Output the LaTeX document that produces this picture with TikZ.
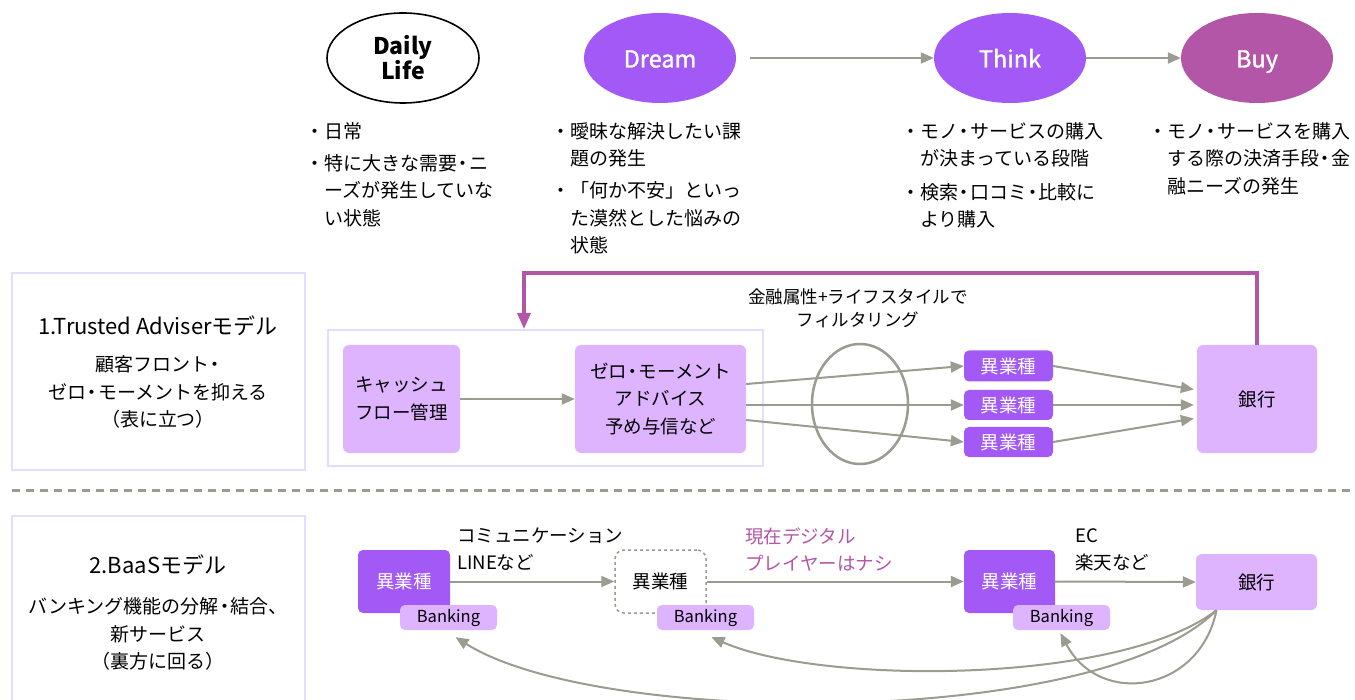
\documentclass[tikz,border=0pt]{standalone}
\usepackage{fontspec}
\setmainfont{Noto Sans CJK JP}
\newfontfamily\medfont{Noto Sans CJK JP}[FakeBold=1.3]
\usetikzlibrary{shapes.geometric,arrows.meta,calc}
\definecolor{vio}{HTML}{A259F5}
\definecolor{lvio}{HTML}{DEB3FF}
\definecolor{mag}{HTML}{B356A7}
\definecolor{gr}{HTML}{9B9B8F}
\definecolor{lav}{HTML}{E3DDFF}
\newcommand{\bl}{\makebox[13pt][r]{・}}
\newcommand{\ind}{\hspace*{13pt}}
\newcommand{\nd}{\makebox[0.62em][c]{・}}
\begin{document}
\begin{tikzpicture}[x=1pt,y=-1pt,
  ell/.style={ellipse,minimum width=152pt,minimum height=90pt,inner sep=0pt,text height=24pt,text depth=5pt,font=\medfont\fontsize{23.5}{25}\selectfont},
  fs/.style={font=\fontsize{18.5}{27.5}\selectfont},
  bfs/.style={font=\fontsize{19}{27.5}\selectfont},
  bullets/.style={bfs,align=left,anchor=north west,inner sep=0pt},
  lbox/.style={draw=lav,line width=2pt,inner sep=0pt},
  pbox/.style={fill=lvio,rounded corners=6pt,inner sep=0pt,fs,align=center,text=black},
  dbox/.style={fill=vio,rounded corners=5pt,inner sep=0pt,fs,text=white},
  tag/.style={fill=lvio,rounded corners=5pt,inner sep=0pt,minimum width=97pt,minimum height=25pt,font=\fontsize{16.5}{18}\selectfont},
  arr/.style={draw=gr,line width=2pt,-{Triangle[length=13pt,width=11pt]}},
  magarr/.style={draw=mag,line width=3.5pt,-{Triangle[length=16pt,width=13pt]}},
  title/.style={font=\fontsize{22}{24}\selectfont},
  desc/.style={font=\fontsize{19}{27.5}\selectfont,align=center},
  lbl/.style={font=\fontsize{18.5}{27}\selectfont,align=left,anchor=west,inner sep=0pt}
]
\useasboundingbox (0,0) rectangle (1355,700);
\fill[white] (0,0) rectangle (1355,700);

% ---- top row ----
\node[ellipse,minimum width=152pt,minimum height=90pt,inner sep=0pt,draw=black,line width=1.6pt,fill=white,align=center,font=\bfseries\fontsize{23}{24}\selectfont] (dl) at (403,58) {Daily\\Life};
\node[ell,fill=vio,text=white] (dream) at (660,58) {Dream};
\node[ell,fill=vio,text=white] (think) at (1010,58) {Think};
\node[ell,fill=mag,text=white] (buy) at (1257,58) {Buy};
\draw[arr] ([xshift=14pt]dream.east) -- (think.west);
\draw[arr] (think.east) -- (buy.west);

\node[bullets] (b1) at (311,122) {\bl 日常\\[4.5pt]\bl 特に大きな需要\nd ニ\\\ind ーズが発生していな\\\ind い状態};
\node[bullets] (b2) at (557,122) {\bl 曖昧な解決したい課\\\ind 題の発生\\[4.5pt]\bl 「何か不安」といっ\\\ind た漠然とした悩みの\\\ind 状態};
\node[bullets] (b3) at (907,122) {\bl モノ\nd サービスの購入\\\ind が決まっている段階\\[6pt]\bl 検索\nd 口コミ\nd 比較に\\\ind より購入};
\node[bullets] (b4) at (1154,122) {\bl モノ\nd サービスを購入\\\ind する際の決済手段\nd 金\\\ind 融ニーズの発生};

% ---- model 1 ----
\node[lbox,minimum width=293pt,minimum height=197pt] (box1) at (158.5,371.5) {};
\node[title] (t1) at (158,326) {1.Trusted Adviserモデル};
\node[desc] (d1) at (158,392) {顧客フロント\nd\\ゼロ\nd モーメントを抑える\\（表に立つ）};

\node[lbox,minimum width=435pt,minimum height=136pt] (inner) at (545.5,398) {};
\node[pbox,minimum width=117pt,minimum height=108pt] (cash) at (401.5,399) {キャッシュ\\フロー管理};
\node[pbox,minimum width=171pt,minimum height=108pt] (zero) at (660.5,399) {ゼロ\nd モーメント\\アドバイス\\予め与信など};
\draw[arr] (cash) -- (zero);

\node[ellipse,draw=gr,line width=2.5pt,minimum width=96pt,minimum height=120pt,inner sep=0pt] (filt) at (860,404) {};
\node[font=\fontsize{17.5}{23}\selectfont,align=center] (flbl) at (858,308) {金融属性+ライフスタイルで\\フィルタリング};

\node[dbox,minimum width=89pt,minimum height=31pt] (i1) at (1008.5,366) {異業種};
\node[dbox,minimum width=89pt,minimum height=30pt] (i2) at (1008.5,405) {異業種};
\node[dbox,minimum width=89pt,minimum height=30pt] (i3) at (1008.5,442) {異業種};
\node[pbox,minimum width=120pt,minimum height=108pt] (bank1) at (1257,399) {銀行};

\draw[arr] ([yshift=15pt]zero.east) -- (i1.west);
\draw[arr] ([yshift=-6pt]zero.east) -- (i2.west);
\draw[arr] ([yshift=-21pt]zero.east) -- (i3.west);
\draw[arr,shorten >=3pt] (i1.east) -- ([yshift=9pt]bank1.west);
\draw[arr,shorten >=3pt] (i2.east) -- ([yshift=-6pt]bank1.west);
\draw[arr,shorten >=3pt] (i3.east) -- ([yshift=-19pt]bank1.west);

\coordinate (mtop) at (524,273);
\draw[magarr] (bank1.north) |- (mtop) -- (mtop |- inner.north);

% ---- separator ----
\coordinate (sepL) at (12,490);
\coordinate (sepR) at (1360,490);
\draw[gr,line width=3pt,dash pattern=on 8pt off 6pt] (sepL) -- (sepR);

% ---- model 2 ----
\node[lbox,minimum width=293pt,minimum height=189pt] (box2) at (158.5,610.5) {};
\node[title] (t2) at (158,565) {2.BaaSモデル};
\node[desc] (d2) at (158,634) {バンキング機能の分解\nd 結合、\\新サービス\\（裏方に回る）};

\node[dbox,minimum width=92pt,minimum height=63pt] (ia) at (404,581.5) {異業種};
\node[tag] (ta) at (448.5,617.5) {Banking};
\node[draw=gr,dashed,line width=1.5pt,rounded corners=9pt,minimum width=91pt,minimum height=63pt,inner sep=0pt,fs] (ib) at (660.5,581.5) {異業種};
\node[tag] (tb) at (705.5,617.5) {Banking};
\node[dbox,minimum width=91pt,minimum height=63pt] (ic) at (1009.5,581.5) {異業種};
\node[tag] (tc) at (1061.5,617.5) {Banking};
\node[pbox,minimum width=121pt,minimum height=56pt] (bank2) at (1256.5,582) {銀行};

\draw[arr] (ia.east) -- (ib.west);
\draw[arr] (ib.east) -- (ic.west);
\draw[arr] (ic.east) -- (bank2.west);

\node[lbl] (l1) at (457,549.5) {コミュニケーション\\LINEなど};
\node[lbl,text=mag] (l2) at (745,549.5) {現在デジタル\\プレイヤーはナシ};
\node[lbl] (l3) at (1075,549.5) {EC\\楽天など};

\draw[arr] ([xshift=-40pt]bank2.south) .. controls (1100,728) and (600,728) .. ([xshift=7pt,yshift=-7pt]ta.south);
\draw[arr] ([xshift=-40pt]bank2.south) .. controls (1120,685) and (820,685) .. ([xshift=6pt,yshift=-7pt]tb.south);
\draw[arr] ([xshift=-40pt]bank2.south) .. controls (1200,692) and (1100,708) .. ([xshift=-1pt,yshift=-3pt]tc.south);
\end{tikzpicture}
\end{document}
